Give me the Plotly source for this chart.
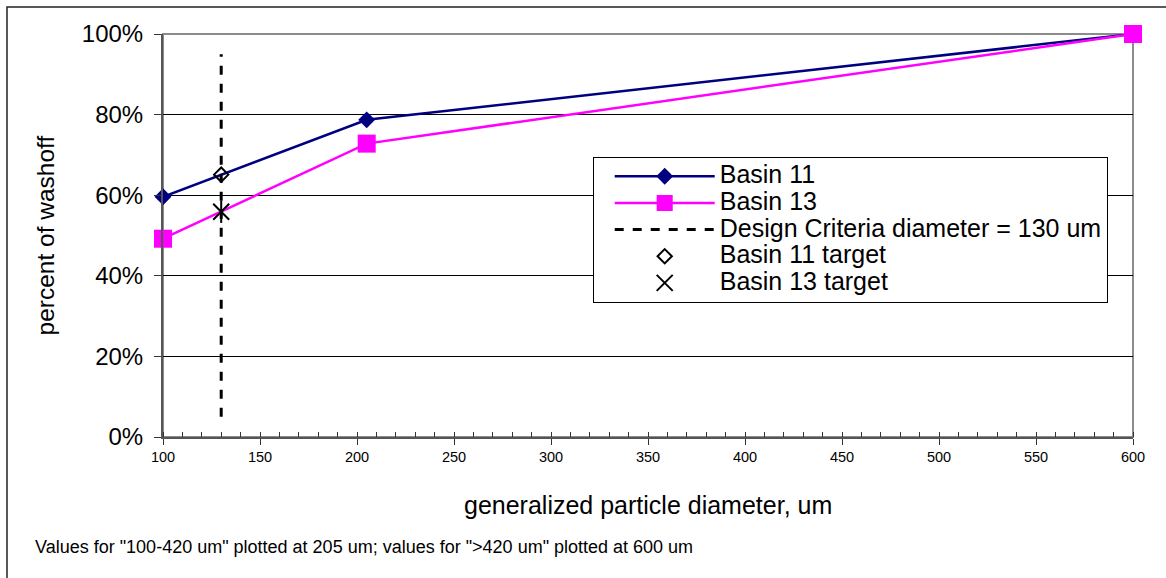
import plotly.graph_objects as go

# particle diameter (um) at which each washoff fraction is plotted
diameter = [100, 205, 600]
basin11 = [0.596, 0.787, 1.00]
basin13 = [0.492, 0.728, 1.00]

# design criterion and the targets read at that diameter
design_diameter = 130
design_line_span = [0.05, 0.95]
basin11_target = 0.651
basin13_target = 0.559

x_ticks = list(range(100, 601, 50))
y_ticks = [0, 0.2, 0.4, 0.6, 0.8, 1.0]

FONT = "Liberation Sans, Arial, sans-serif"
NAVY = "#000080"
MAGENTA = "#FF00FF"


def legend_label(text):
    # large legend text on tight rows
    return f'<span style="font-size:25px">{text}</span>'


fig = go.Figure()

fig.add_trace(go.Scatter(
    x=diameter, y=basin11, name=legend_label("Basin 11"), mode="lines+markers",
    line=dict(color=NAVY, width=2.5),
    marker=dict(symbol="diamond", size=13, color=NAVY),
    cliponaxis=False,
))
fig.add_trace(go.Scatter(
    x=diameter, y=basin13, name=legend_label("Basin 13"), mode="lines+markers",
    line=dict(color=MAGENTA, width=2.5),
    marker=dict(symbol="square", size=18, color=MAGENTA),
    cliponaxis=False,
))
fig.add_trace(go.Scatter(
    x=[design_diameter, design_diameter], y=design_line_span,
    name=legend_label("Design Criteria diameter = 130 um"), mode="lines",
    line=dict(color="black", width=3, dash="dash"),
))
fig.add_trace(go.Scatter(
    x=[design_diameter], y=[basin11_target],
    name=legend_label("Basin 11 target"), mode="markers",
    marker=dict(symbol="diamond-open", size=11, color="black",
                line=dict(color="black", width=2)),
))
# six-armed star: an X plus a vertical stroke
fig.add_trace(go.Scatter(
    x=[design_diameter], y=[basin13_target],
    name=legend_label("Basin 13 target"),
    mode="markers", legendgroup="b13t",
    marker=dict(symbol="x-thin-open", size=16, color="black",
                line=dict(color="black", width=2)),
))
fig.add_trace(go.Scatter(
    x=[design_diameter], y=[basin13_target], name="Basin 13 target",
    mode="markers", legendgroup="b13t", showlegend=False,
    marker=dict(symbol="line-ns-open", size=16, color="black",
                line=dict(color="black", width=2)),
))

fig.update_layout(
    width=1166, height=578,
    margin=dict(l=163, r=33, t=34, b=141),
    paper_bgcolor="white", plot_bgcolor="white",
    font=dict(family=FONT, color="black"),
    showlegend=True,
    legend=dict(
        x=0.443, y=0.695, xanchor="left", yanchor="top",
        bordercolor="black", borderwidth=1, bgcolor="white",
        font=dict(family=FONT, size=18.2), itemwidth=100,
        indentation=16, tracegroupgap=0,
    ),
    xaxis=dict(
        range=[100, 600], tickvals=x_ticks,
        tickfont=dict(size=14.5), ticks="outside", ticklen=6,
        tickcolor="#333333", tickwidth=1,
        minor=dict(dtick=10, ticks="inside", ticklen=5, tickcolor="#333333",
                   showgrid=False),
        showgrid=False, zeroline=False,
        showline=True, linecolor="#555555", linewidth=2,
    ),
    yaxis=dict(
        range=[0, 1.0], tickvals=y_ticks, tickformat=".0%",
        tickfont=dict(size=24), ticks="outside", ticklen=7,
        tickcolor="#333333", ticklabelstandoff=6,
        showgrid=True, gridcolor="black", gridwidth=1, zeroline=False,
        showline=True, linecolor="#555555", linewidth=2,
    ),
    shapes=[
        # plot-area frame (top and right edges)
        dict(type="rect", xref="paper", yref="paper", x0=0, x1=1, y0=0, y1=1,
             line=dict(color="#8c8c8c", width=2), layer="below"),
        # chart border
        dict(type="rect", xref="paper", yref="paper",
             x0=-156 / 970, x1=1.04, y0=-0.4, y1=1 + 27 / 403,
             line=dict(color="#222222", width=1.5), layer="below"),
    ],
    annotations=[
        dict(text="percent of washoff", xref="paper", yref="paper",
             x=0, y=0.5, xshift=-118, textangle=-90, showarrow=False,
             xanchor="center", yanchor="middle", font=dict(size=24.5)),
        dict(text="generalized particle diameter, um", xref="paper",
             yref="paper", x=0.5, y=0, yshift=-68, showarrow=False,
             xanchor="center", yanchor="middle", font=dict(size=25)),
        dict(text='Values for "100-420 um" plotted at 205 um; values for ">420 um" plotted at 600 um',
             xref="paper", yref="paper", x=0, y=0, xshift=-130, yshift=-110,
             showarrow=False, xanchor="left", yanchor="middle",
             font=dict(size=18)),
    ],
)

fig.write_html("out.html")
